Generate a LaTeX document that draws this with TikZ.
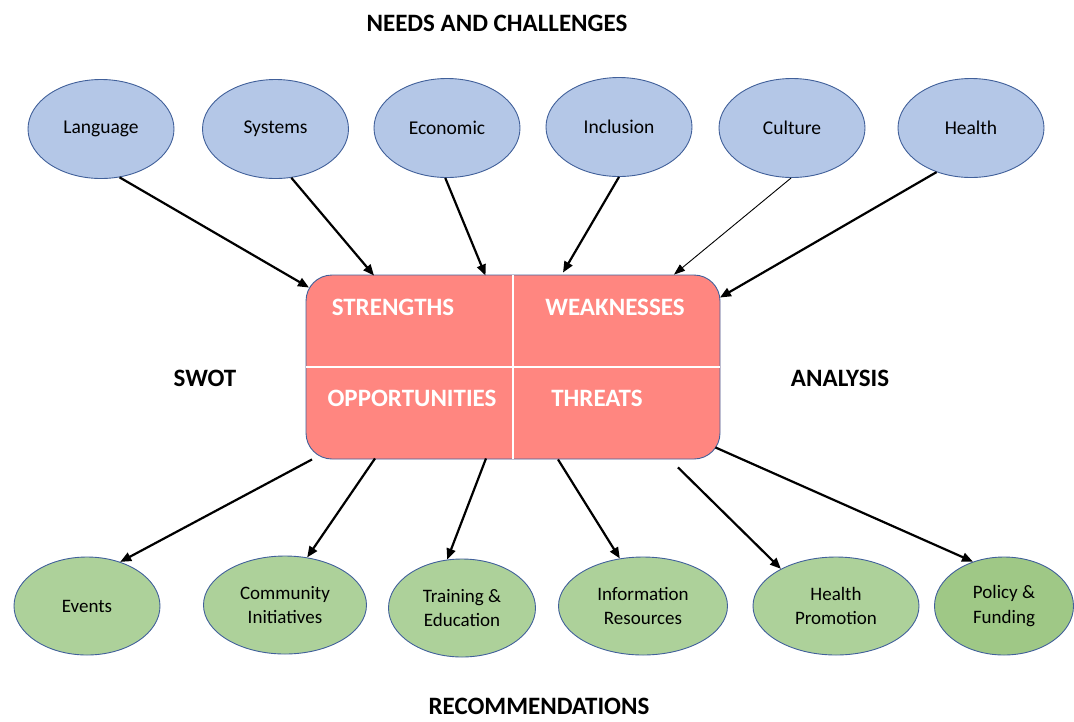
\documentclass[tikz,border=0pt]{standalone}
\usepackage{fontspec}
\setmainfont{Carlito}
\usetikzlibrary{shapes.geometric,arrows.meta,calc}
\definecolor{topfill}{HTML}{B4C7E7}
\definecolor{edgeblue}{HTML}{41609A}
\definecolor{botfill}{HTML}{ADD19A}
\definecolor{botdark}{HTML}{9FC886}
\definecolor{boxfill}{HTML}{FF8680}
\tikzset{
  topell/.style={ellipse, draw=edgeblue, line width=0.9pt, fill=topfill, minimum width=146pt, minimum height=99pt, inner sep=0pt, font=\fontsize{19.5}{24}\selectfont, text=black},
  botell/.style={ellipse, draw=edgeblue, line width=0.9pt, fill=botfill, minimum height=98pt, inner sep=0pt, align=center, font=\fontsize{19}{24.5}\selectfont, text=black},
  title/.style={font=\bfseries\fontsize{25}{30}\selectfont, text=black},
  quad/.style={font=\bfseries\fontsize{25}{30}\selectfont, text=white},
  arr/.style={-{Triangle[length=11pt,width=9pt]}, line width=2.2pt, black},
  thinarr/.style={-{Triangle[length=11pt,width=8pt]}, line width=0.9pt, black}
}
\begin{document}
\begin{tikzpicture}[x=1pt,y=1pt]
\useasboundingbox (0,0) rectangle (1074,-721);
% titles
\node[title] (tNeeds) at (497,-23) {NEEDS AND CHALLENGES};
\node[title] (tSwot) at (205,-378) {SWOT};
\node[title] (tAnal) at (840,-378) {ANALYSIS};
\node[title, inner sep=0pt] (tRec) at (539,-706) {RECOMMENDATIONS};
% top ellipses
\node[topell] (lang) at (101,-129) {Language};
\node[topell] (sys) at (275.5,-129) {Systems};
\node[topell] (econ) at (447,-128) {Economic};
\node[topell] (incl) at (619,-127) {Inclusion};
\node[topell] (cult) at (792,-128) {Culture};
\node[topell] (hlth) at (971,-128) {Health};
% central box
\node[draw=edgeblue, line width=0.9pt, fill=boxfill, rounded corners=26pt, minimum width=414pt, minimum height=184pt, inner sep=0pt] (box) at (513,-367) {};
\draw[white, line width=1.3pt] ([yshift=-0.6pt]box.north) -- ([yshift=0.6pt]box.south);
\draw[white, line width=1.3pt] ([xshift=0.6pt]box.west) -- ([xshift=-0.6pt]box.east);
\node[quad] (qS) at (393,-307) {STRENGTHS};
\node[quad] (qW) at (615,-307) {WEAKNESSES};
\node[quad] (qO) at (412,-398) {OPPORTUNITIES};
\node[quad] (qT) at (597,-398) {THREATS};
% bottom ellipses
\node[botell, minimum width=146pt] (ev) at (87,-606) {Events};
\node[botell, minimum width=163pt] (comm) at (285,-605) {Community\\Initiatives};
\node[botell, minimum width=147pt] (train) at (462,-608) {Training \&\\Education};
\node[botell, minimum width=169pt] (info) at (643,-606) {Information\\Resources};
\node[botell, minimum width=166pt] (hp) at (836,-606) {Health\\Promotion};
\node[botell, minimum width=139pt, fill=botdark] (pol) at (1004,-606) {Policy \&\\Funding};
% top arrows
\draw[arr] (lang.-69) -- ([xshift=-204pt,yshift=-13pt]box.north);
\draw[arr] (sys.-72) -- ([xshift=-139pt,yshift=-1pt]box.north);
\draw[arr] (econ.-92) -- ([xshift=-27.5pt,yshift=-1pt]box.north);
\draw[arr] (incl.-90) -- ([xshift=50pt,yshift=2pt]box.north);
\draw[thinarr] (cult.-91) -- ([xshift=161pt]box.north);
\draw[arr] (hlth.-128) -- ([xshift=-0.5pt,yshift=-23pt]box.north east);
% bottom arrows
\draw[arr] ([xshift=-201pt]box.south) -- (ev.53);
\draw[arr] ([xshift=-138pt,yshift=1pt]box.south) -- (comm.65);
\draw[arr] ([xshift=-27pt,yshift=1pt]box.south) -- (train.107);
\draw[arr] ([xshift=45pt]box.south) -- (info.116);
\draw[arr] ([xshift=165pt,yshift=-8pt]box.south) -- (hp.146);
\draw[arr] ([xshift=-5pt,yshift=12pt]box.south east) -- (pol.125);
\end{tikzpicture}
\end{document}
